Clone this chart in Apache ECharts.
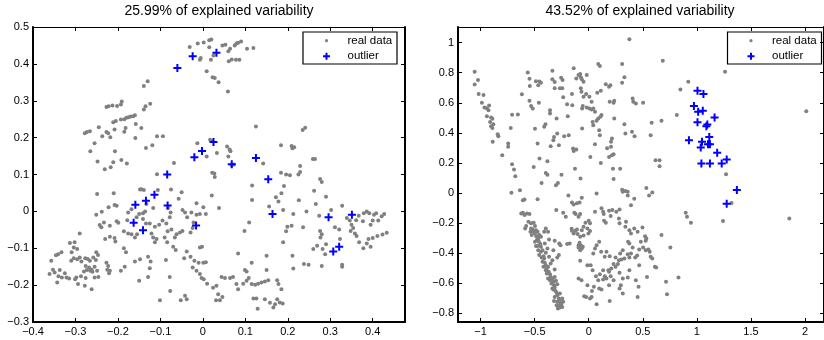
<!DOCTYPE html>
<html><head><meta charset="utf-8">
<script src="https://cdn.jsdelivr.net/npm/echarts@6/dist/echarts.min.js"></script>
<style>html,body{margin:0;padding:0;background:#fff}#c{width:824px;height:340px}</style>
</head><body><div id="c"></div>
<script>
const titles = ['25.99% of explained variability', '43.52% of explained variability'];
const seriesNames = ['real data', 'outlier'];
const leftXTicks = [-0.4, -0.3, -0.2, -0.1, 0, 0.1, 0.2, 0.3, 0.4];
const leftYTicks = [-0.3, -0.2, -0.1, 0, 0.1, 0.2, 0.3, 0.4, 0.5];
const rightXTicks = [-1, -0.5, 0, 0.5, 1, 1.5, 2];
const rightYTicks = [-0.8, -0.6, -0.4, -0.2, 0, 0.2, 0.4, 0.6, 0.8, 1];

const leftReal = [
[-0.031,0.446],[-0.012,0.455],[0.002,0.458],[0.015,0.464],[0.020,0.466],[0.015,0.445],[-0.007,0.411],[-0.005,0.416],[0.019,0.411],[0.025,0.423],[0.046,0.450],[0.053,0.452],[0.060,0.434],[0.064,0.441],[0.075,0.450],[0.079,0.455],[0.083,0.457],[0.090,0.461],[0.061,0.407],[0.068,0.412],[0.078,0.411],[0.086,0.411],[0.104,0.441],[0.119,0.443],[0.009,0.380],[0.023,0.364],[0.028,0.362],[0.037,0.350],[0.059,0.325],
[-0.139,0.340],[-0.130,0.353],[-0.139,0.276],[-0.135,0.285],[-0.124,0.292],[-0.227,0.283],[-0.222,0.285],[-0.213,0.287],[-0.202,0.286],[-0.193,0.290],[-0.191,0.298],[-0.185,0.250],[-0.180,0.254],[-0.175,0.255],[-0.170,0.257],[-0.164,0.258],[-0.160,0.261],[-0.193,0.249],[-0.211,0.242],[-0.205,0.245],[-0.158,0.237],[-0.145,0.226],[-0.245,0.228],[-0.227,0.215],[-0.223,0.212],[-0.182,0.226],[-0.185,0.216],[-0.208,0.222],[-0.278,0.212],[-0.273,0.215],[-0.266,0.217],[-0.237,0.204],[-0.218,0.201],[-0.159,0.199],[-0.108,0.204],[-0.094,0.204],[-0.134,0.172],[-0.119,0.179],[-0.255,0.185],[-0.265,0.163],[-0.207,0.163],[-0.248,0.135],[-0.211,0.133],[-0.192,0.139],[-0.179,0.130],[-0.217,0.120],[-0.231,0.114],[-0.068,0.131],
[-0.013,0.185],[0.017,0.194],[0.022,0.190],[0.009,0.149],[0.033,0.158],[0.057,0.176],[0.063,0.168],[0.065,0.163],[0.060,0.149],[0.125,0.230],[0.142,0.130],[0.184,0.179],[0.209,0.177],[0.211,0.171],[0.215,0.174],[0.235,0.221],[0.241,0.227],[0.229,0.123],[0.259,0.142],[0.264,0.142],[0.073,0.127],[0.068,0.125],
[-0.249,0.047],[-0.210,0.049],[-0.222,0.011],[-0.208,0.017],[-0.203,0.015],[-0.148,0.059],[-0.145,0.060],[-0.139,0.058],[-0.106,0.058],[-0.075,0.059],[-0.108,0.101],[0.022,0.105],[0.027,0.103],[0.028,0.093],[0.184,0.105],[0.196,0.100],[0.205,0.098],[0.225,0.100],[0.229,0.107],[0.226,0.030],[0.276,0.088],[0.280,0.080],
[-0.290,-0.060],[-0.313,-0.086],[-0.302,-0.084],[-0.304,-0.098],[-0.296,-0.102],[-0.333,-0.111],[-0.341,-0.116],[-0.346,-0.119],[-0.357,-0.134],[-0.309,-0.111],[-0.310,-0.134],[-0.304,-0.127],[-0.296,-0.130],[-0.290,-0.125],[-0.286,-0.136],[-0.277,-0.127],[-0.271,-0.129],[-0.266,-0.134],[-0.258,-0.125],[-0.252,-0.132],[-0.251,-0.111],[-0.247,-0.118],[-0.276,-0.148],[-0.268,-0.152],[-0.262,-0.158],[-0.255,-0.150],[-0.361,-0.170],[-0.349,-0.166],[-0.337,-0.159],[-0.325,-0.168],[-0.321,-0.179],[-0.332,-0.179],[-0.340,-0.176],[-0.353,-0.158],[-0.343,-0.193],[-0.315,-0.182],[-0.298,-0.179],[-0.294,-0.197],[-0.278,-0.202],[-0.262,-0.211],[-0.280,-0.163],[-0.273,-0.159],[-0.265,-0.161],[-0.260,-0.164],[-0.249,-0.161],[-0.246,-0.178],[-0.255,-0.179],[-0.276,-0.181],[-0.287,-0.176],[-0.301,-0.184],[-0.227,-0.139],[-0.223,-0.148],[-0.225,-0.158],[-0.219,-0.161],[-0.221,-0.168],[-0.193,-0.161],[-0.184,-0.150],
[-0.238,-0.001],[-0.251,-0.009],[-0.243,-0.037],[-0.239,-0.043],[-0.233,-0.030],[-0.219,-0.039],[-0.203,-0.027],[-0.199,-0.031],[-0.230,-0.075],[-0.219,-0.069],[-0.208,-0.072],[-0.206,-0.082],[-0.186,-0.054],[-0.176,-0.060],[-0.168,-0.062],[-0.186,-0.100],[-0.181,-0.111],[-0.160,-0.071],[-0.155,-0.062],[-0.160,-0.136],[-0.148,-0.130],[-0.129,-0.123],[-0.123,-0.136],[-0.150,-0.188],[-0.129,-0.178],[-0.125,-0.154],[-0.176,-0.003],[-0.168,0.006],[-0.178,-0.024],[-0.156,-0.016],[-0.150,-0.007],[-0.141,-0.005],[-0.136,0.000],[-0.141,-0.021],[-0.134,-0.033],[-0.133,0.020],[-0.117,0.009],[-0.125,-0.033],[-0.113,-0.042],[-0.103,-0.036],[-0.121,-0.060],[-0.117,-0.071],[-0.113,-0.084],[-0.109,-0.075],[-0.095,-0.025],[-0.086,-0.033],[-0.078,-0.016],[-0.076,-0.003],[-0.082,0.009],[-0.083,-0.054],[-0.074,-0.049],[-0.090,-0.071],[-0.084,-0.084],[-0.087,-0.132],[-0.078,-0.178],[-0.077,-0.216],[-0.101,-0.241],[-0.070,-0.096],[-0.064,-0.105],[-0.066,-0.071],[-0.062,-0.062],[-0.054,-0.057],[-0.048,-0.053],[-0.048,0.004],[-0.042,-0.003],[-0.037,-0.016],[-0.027,-0.003],[-0.050,0.052],[-0.057,0.034],[-0.029,-0.057],[-0.024,-0.045],[-0.022,-0.030],[-0.015,0.022],[-0.007,-0.007],[-0.015,-0.009],[0.001,0.011],[0.007,-0.007],[0.021,0.043],[0.038,0.009],[-0.038,-0.109],[-0.029,-0.123],[-0.020,-0.134],[-0.010,-0.139],[0.001,-0.139],[0.007,-0.138],[-0.044,-0.127],[-0.024,-0.152],[-0.015,-0.161],[-0.007,-0.170],[-0.003,-0.181],[0.002,-0.184],[-0.007,-0.098],[-0.002,-0.096],[-0.042,-0.229],[-0.038,-0.238],[-0.052,-0.241],
[0.010,-0.196],[0.024,-0.207],[0.032,-0.202],[0.036,-0.225],[0.046,-0.232],[0.040,-0.241],[0.031,-0.241],[0.044,-0.178],[0.052,-0.181],[0.064,-0.181],[0.071,-0.178],[0.079,-0.197],[0.083,-0.211],[0.095,-0.196],[0.103,-0.188],[0.108,-0.181],[0.115,-0.197],[0.123,-0.199],[0.130,-0.196],[0.138,-0.193],[0.146,-0.190],[0.154,-0.187],[0.175,-0.187],[0.099,-0.159],[0.103,-0.163],[0.115,-0.139],[0.083,-0.114],[0.098,-0.053],[0.109,-0.030],[0.116,0.070],[0.116,0.031],[0.119,-0.236],[0.126,-0.236],[0.129,-0.264],[0.146,-0.238],[0.158,-0.248],[0.166,-0.261],[0.170,-0.252],[0.175,-0.238],[0.181,-0.247],[0.188,-0.250],[0.185,-0.211],[0.178,-0.197],[0.150,-0.159],[0.150,-0.120],[0.156,0.013],[0.172,0.038],[0.178,0.027],[0.185,0.049],[0.191,0.069],[0.189,0.004],[0.196,-0.054],[0.199,-0.042],[0.209,-0.039],[0.213,-0.007],[0.189,-0.084],[0.211,-0.120],[0.213,-0.155],[0.236,-0.043],[0.244,0.000],[0.262,0.056],[0.266,0.020],[0.290,0.040],[0.302,0.004],[0.274,-0.012],[0.276,-0.053],[0.280,-0.062],[0.277,-0.071],[0.260,-0.102],[0.269,-0.093],[0.282,-0.102],[0.288,-0.116],[0.290,-0.089],[0.238,-0.143],[0.249,-0.145],[0.280,-0.148],[0.328,-0.145],[0.328,-0.150],[0.311,-0.043],[0.321,-0.049],[0.328,0.015],[0.339,-0.018],[0.346,-0.025],[0.350,-0.036],[0.354,-0.045],[0.358,-0.060],[0.362,-0.067],[0.348,-0.053],[0.361,-0.024],[0.367,-0.012],[0.377,-0.027],[0.379,-0.005],[0.386,0.000],[0.392,-0.005],[0.395,-0.036],[0.400,-0.025],[0.403,-0.009],[0.408,-0.005],[0.413,-0.025],[0.421,-0.013],[0.427,-0.007],[0.433,-0.058],[0.423,-0.063],[0.411,-0.067],[0.400,-0.072],[0.390,-0.075],[0.378,-0.100],[0.386,-0.087],[0.368,-0.084],[0.395,-0.096],[0.323,-0.075]
];
const leftOutlier = [
[-0.060,0.389],[-0.024,0.421],[0.032,0.430],[-0.020,0.147],[-0.002,0.164],[0.025,0.188],[0.068,0.128],[0.125,0.145],[-0.084,0.100],[0.154,0.087],[-0.159,0.018],[-0.134,0.029],[-0.114,0.045],[-0.083,0.016],[-0.163,-0.031],[-0.141,-0.051],[-0.016,-0.038],[0.164,-0.007],[0.296,-0.016],[0.351,-0.009],[0.307,-0.109],[0.321,-0.096]
];
const rightReal = [
[-1.055,0.807],[-1.055,0.722],[-1.024,0.751],[-1.018,0.658],[-0.973,0.651],[-0.988,0.600],[-0.964,0.569],[-0.942,0.564],[-0.921,0.582],[-0.927,0.551],[-0.942,0.511],[-0.903,0.502],[-0.891,0.493],[-0.912,0.473],[-0.903,0.444],[-0.882,0.458],[-0.891,0.433],[-0.888,0.340],[-0.836,0.378],[-0.842,0.391],[-0.800,0.251],[-0.745,0.329],[-0.745,0.307],[-0.721,0.433],[-0.709,0.520],[-0.655,0.522],[-0.618,0.656],[-0.564,0.802],[-0.548,0.760],[-0.545,0.711],[-0.548,0.613],[-0.533,0.578],[-0.518,0.562],[-0.461,0.600],[-0.497,0.427],[-0.473,0.329],[-0.455,0.229],[-0.509,0.173],[-0.488,0.744],[-0.467,0.716],[-0.442,0.733],[-0.455,0.742],[-0.400,0.458],[-0.382,0.211],[-0.358,0.551],[-0.358,0.529],[-0.336,0.813],[-0.336,0.756],[-0.315,0.738],[-0.315,0.696],[-0.297,0.496],[-0.321,0.373],[-0.327,0.351],[-0.291,0.396],[-0.276,0.318],[-0.255,0.767],[-0.242,0.751],[-0.245,0.696],[-0.267,0.696],[-0.236,0.636],[-0.227,0.378],[-0.200,0.591],[-0.194,0.511],[-0.139,0.829],[-0.155,0.658],[-0.152,0.584],[-0.115,0.762],[-0.094,0.784],[-0.079,0.791],[-0.073,0.769],[-0.064,0.756],[-0.048,0.740],[-0.018,0.784],[-0.073,0.696],[-0.067,0.673],[-0.048,0.640],[-0.024,0.658],[0.006,0.640],[0.027,0.607],[-0.055,0.578],[-0.061,0.562],[-0.018,0.569],[0.006,0.562],[0.027,0.556],[0.042,0.562],[0.058,0.540],[-0.145,0.296],[-0.139,0.280],[-0.115,0.289],[-0.185,0.384],[-0.061,0.429],[0.015,0.240],[0.058,0.324],[0.036,0.473],[0.042,0.451],[0.073,0.480],[0.088,0.496],[0.097,0.418],[0.103,0.384],[0.109,0.507],[0.118,0.518],[0.079,0.667],[0.088,0.858],[0.103,0.844],[0.112,0.680],[0.158,0.724],[0.188,0.707],[0.200,0.716],[0.194,0.607],[0.230,0.600],[0.236,0.613],[0.236,0.496],[0.206,0.340],[0.215,0.362],[0.170,0.298],[0.206,0.307],[0.112,0.200],[0.188,0.240],[0.215,0.251],[0.230,0.258],[0.224,0.162],[0.291,0.162],[0.309,0.858],[0.309,0.733],[0.330,0.769],[0.330,0.458],[0.339,0.396],[0.406,0.629],[0.412,0.607],[0.436,0.596],[0.400,0.407],[0.424,0.378],[0.376,1.022],[0.503,0.600],[0.573,0.384],[0.582,0.467],[0.618,0.218],[0.655,0.218],[0.655,0.178],[0.673,0.480],[0.685,0.880],[0.815,0.518],[0.848,0.689],[0.921,0.740],[1.261,0.807],[2.012,0.544],[-0.709,0.191],[-0.691,0.156],[-0.127,0.162],[-0.352,0.311],[-0.412,0.440],
[-0.679,0.111],[-0.715,0.002],[-0.636,0.018],[-0.609,-0.049],[-0.594,-0.044],[-0.473,-0.042],[-0.436,0.067],[-0.397,0.133],[-0.382,0.122],[-0.303,0.051],[-0.285,0.067],[-0.252,0.122],[-0.188,-0.016],[-0.076,0.096],[-0.155,-0.064],[-0.139,-0.076],[-0.109,-0.069],[-0.085,-0.064],[-0.064,-0.031],[0.073,-0.004],[0.230,0.093],[0.309,0.022],[0.315,0.009],[0.339,0.013],[0.361,0.009],[0.361,-0.016],[0.421,-0.038],[0.391,-0.082],[0.533,0.033],[0.558,-0.016],[0.588,0.004],[1.270,0.124],[1.321,-0.067],
[-0.624,-0.136],[-0.609,-0.131],[-0.594,-0.147],[-0.570,-0.136],[-0.548,-0.140],[-0.579,-0.220],[-0.558,-0.191],[-0.533,-0.202],[-0.509,-0.198],[-0.497,-0.220],[-0.588,-0.236],[-0.533,-0.236],[-0.518,-0.242],[-0.509,-0.258],[-0.488,-0.247],[-0.473,-0.258],[-0.539,-0.258],[-0.527,-0.280],[-0.497,-0.269],[-0.485,-0.287],[-0.467,-0.302],[-0.458,-0.280],[-0.442,-0.291],[-0.479,-0.313],[-0.461,-0.324],[-0.448,-0.340],[-0.442,-0.358],[-0.473,-0.353],[-0.467,-0.380],[-0.442,-0.391],[-0.458,-0.413],[-0.436,-0.429],[-0.418,-0.420],[-0.412,-0.436],[-0.427,-0.458],[-0.406,-0.464],[-0.397,-0.480],[-0.418,-0.491],[-0.388,-0.502],[-0.376,-0.491],[-0.397,-0.513],[-0.388,-0.536],[-0.370,-0.524],[-0.358,-0.540],[-0.352,-0.558],[-0.376,-0.569],[-0.358,-0.580],[-0.336,-0.569],[-0.327,-0.591],[-0.345,-0.602],[-0.321,-0.613],[-0.315,-0.629],[-0.327,-0.642],[-0.306,-0.651],[-0.297,-0.664],[-0.291,-0.680],[-0.315,-0.691],[-0.276,-0.702],[-0.267,-0.718],[-0.261,-0.731],[-0.255,-0.740],[-0.276,-0.747],[-0.245,-0.758],[-0.267,-0.762],[-0.285,-0.769],[-0.236,-0.724],[-0.291,-0.724],[-0.336,-0.636],[-0.315,-0.558],[-0.303,-0.584],[-0.291,-0.607],[-0.427,-0.380],[-0.397,-0.398],[-0.488,-0.353],[-0.497,-0.324],[-0.448,-0.287],[-0.412,-0.258],[-0.406,-0.336],[-0.382,-0.369],[-0.367,-0.424],[-0.352,-0.469],[-0.336,-0.447],[-0.315,-0.509],[-0.321,-0.718],[-0.297,-0.747],[-0.245,-0.702],[-0.267,-0.669],[-0.276,-0.413],[-0.397,-0.236],[-0.376,-0.258],[-0.367,-0.309],
[-0.300,-0.113],[-0.236,-0.131],[-0.212,-0.158],[-0.133,-0.131],[-0.121,-0.140],[-0.094,-0.158],[-0.079,-0.140],[-0.155,-0.251],[-0.139,-0.269],[-0.124,-0.251],[-0.109,-0.242],[-0.158,-0.238],[-0.103,-0.273],[-0.079,-0.291],[-0.048,-0.282],[-0.064,-0.247],[-0.048,-0.224],[-0.012,-0.236],[0.012,-0.253],[-0.003,-0.269],[-0.030,-0.198],[0.000,-0.184],[0.012,-0.202],[-0.085,-0.331],[-0.094,-0.347],[-0.073,-0.347],[-0.055,-0.358],[-0.094,-0.362],[-0.064,-0.369],[-0.079,-0.380],[-0.176,-0.336],[-0.200,-0.340],[-0.273,-0.336],[-0.261,-0.347],[-0.315,-0.318],[-0.327,-0.380],[-0.291,-0.429],[-0.079,-0.451],[-0.094,-0.569],[-0.067,-0.580],[-0.012,-0.613],[-0.042,-0.687],[0.012,-0.702],[0.027,-0.691],[0.073,-0.740],[0.058,-0.124],[0.118,-0.102],[0.133,-0.124],[0.139,-0.140],[0.188,-0.118],[0.218,-0.113],[0.255,-0.124],[0.285,-0.109],[0.142,-0.184],[0.158,-0.198],[0.203,-0.153],[0.279,-0.169],[0.285,-0.202],[0.339,-0.224],[0.345,-0.191],[0.376,-0.247],[0.391,-0.269],[0.421,-0.236],[0.452,-0.258],[0.497,-0.229],[0.521,-0.287],[0.527,-0.318],[0.533,-0.302],[0.503,-0.362],[0.527,-0.380],[0.552,-0.376],[0.573,-0.424],[0.588,-0.436],[0.612,-0.491],[0.624,-0.496],[0.673,-0.280],[0.755,-0.362],[0.564,-0.391],[0.482,-0.324],[0.467,-0.376],[0.448,-0.416],[0.430,-0.429],[0.391,-0.402],[0.376,-0.429],[0.361,-0.407],[0.364,-0.324],[0.376,-0.336],[0.406,-0.362],[0.315,-0.380],[0.291,-0.402],[0.303,-0.442],[0.279,-0.447],[0.248,-0.429],[0.194,-0.420],[0.164,-0.391],[0.148,-0.424],[0.115,-0.391],[0.073,-0.347],[0.058,-0.369],[0.042,-0.402],[0.097,-0.324],[0.230,-0.473],[0.248,-0.491],[0.182,-0.513],[0.203,-0.553],[0.164,-0.569],[0.148,-0.553],[0.133,-0.576],[0.088,-0.580],[0.067,-0.553],[0.036,-0.513],[0.018,-0.480],[-0.012,-0.480],[0.097,-0.636],[0.188,-0.613],[0.230,-0.580],[0.285,-0.531],[0.315,-0.569],[0.361,-0.562],[0.376,-0.513],[0.461,-0.624],[0.452,-0.691],[0.285,-0.636],[0.297,-0.613],[0.315,-0.669],[0.194,-0.718],[0.118,-0.642],[0.048,-0.624],[0.030,-0.651],[0.103,-0.540],[0.133,-0.513],[-0.024,-0.691],[0.188,-0.524],[0.209,-0.502],[0.270,-0.473],[0.330,-0.436],[0.467,-0.480],[0.436,-0.580],[0.539,-0.558],[0.715,-0.591],[0.830,-0.562],[0.724,-0.673],[0.897,-0.131],[0.909,-0.158],[0.945,-0.198],[1.242,-0.187],[1.855,-0.169]
];
const rightOutlier = [
[1.006,0.680],[1.061,0.658],[0.973,0.578],[1.012,0.540],[1.055,0.547],[1.006,0.471],[1.088,0.444],[1.097,0.456],[1.164,0.502],[0.927,0.351],[1.048,0.340],[1.115,0.373],[1.103,0.324],[1.121,0.324],[1.036,0.302],[1.188,0.267],[1.042,0.196],[1.121,0.196],[1.230,0.196],[1.276,0.222],[1.370,0.020],[1.276,-0.071]
];

const FONT = '"Liberation Sans", Arial, Helvetica, sans-serif';
const PLUS = 'path://M3,0H5V3H8V5H5V8H3V5H0V3H3Z';
const GRAY = '#808080';
const BLUE = '#0000ff';
const fmt = v => (v < 0 ? '\u2212' + String(-v) : String(v));

function axis(gridIndex, position, min, max, ticks, showLabel, lw) {
  return {
    type: 'value', gridIndex, position, min, max,
    axisLine: { show: true, onZero: false, lineStyle: { color: '#000', width: lw } },
    axisTick: { show: true, inside: true, length: 4, customValues: ticks, lineStyle: { color: '#000', width: 1 } },
    axisLabel: { show: showLabel, customValues: ticks, formatter: fmt, color: '#000', fontSize: 11, fontFamily: FONT, margin: 4 },
    splitLine: { show: false }
  };
}

const L = { xmin: -0.4, xmax: 0.476, ymin: -0.3, ymax: 0.5 };
const R = { xmin: -1.209, xmax: 2.176, ymin: -0.858, ymax: 1.104 };

function plusPoints(cx, cy, h, t) {
  return [[cx - t, cy - h], [cx + t, cy - h], [cx + t, cy - t], [cx + h, cy - t], [cx + h, cy + t], [cx + t, cy + t],
          [cx + t, cy + h], [cx - t, cy + h], [cx - t, cy + t], [cx - h, cy + t], [cx - h, cy - t], [cx - t, cy - t]];
}
function legendBox(x0) {
  const iconX = x0 + 24, textX = x0 + 45, y1 = 40.7, y2 = 56.2;
  const ts = { fill: '#000', fontSize: 11.5, fontFamily: FONT, verticalAlign: 'middle', align: 'left' };
  return {
    type: 'group', silent: true, z: 100,
    children: [
      { type: 'rect', shape: { x: x0 + 0.5, y: 32, width: 94, height: 32 }, style: { fill: '#fff', stroke: '#000', lineWidth: 1.2 } },
      { type: 'circle', shape: { cx: iconX, cy: y1, r: 1.6 }, style: { fill: GRAY } },
      { type: 'polygon', shape: { points: plusPoints(iconX, y2, 3.5, 1) }, style: { fill: BLUE } },
      { type: 'text', style: Object.assign({ text: seriesNames[0], x: textX, y: y1 }, ts) },
      { type: 'text', style: Object.assign({ text: seriesNames[1], x: textX, y: y2 }, ts) }
    ]
  };
}

const option = {
  animation: false,
  backgroundColor: '#fff',
  title: [
    { text: titles[0], left: 219, top: 4, textAlign: 'center', padding: 0,
      textStyle: { fontSize: 14, fontWeight: 'normal', color: '#000', fontFamily: FONT } },
    { text: titles[1], left: 640, top: 4, textAlign: 'center', padding: 0,
      textStyle: { fontSize: 14, fontWeight: 'normal', color: '#000', fontFamily: FONT } }
  ],
  graphic: [legendBox(302.5), legendBox(727)],
  grid: [
    { left: 33, top: 27, right: 419, bottom: 18, containLabel: false },
    { left: 458, top: 27, right: -6, bottom: 18, containLabel: false }
  ],
  xAxis: [
    axis(0, 'bottom', L.xmin, L.xmax, leftXTicks, true, 2),
    axis(1, 'bottom', R.xmin, R.xmax, rightXTicks, true, 2),
    axis(0, 'top', L.xmin, L.xmax, leftXTicks, false, 1),
    axis(1, 'top', R.xmin, R.xmax, rightXTicks, false, 1)
  ],
  yAxis: [
    axis(0, 'left', L.ymin, L.ymax, leftYTicks, true, 2),
    axis(1, 'left', R.ymin, R.ymax, rightYTicks, true, 2),
    axis(0, 'right', L.ymin, L.ymax, leftYTicks, false, 2),
    axis(1, 'right', R.ymin, R.ymax, rightYTicks, false, 2)
  ],
  series: [
    { type: 'scatter', name: seriesNames[0], xAxisIndex: 0, yAxisIndex: 0, data: leftReal,
      symbol: 'circle', symbolSize: 4, itemStyle: { color: GRAY, opacity: 1 }, z: 2, silent: true },
    { type: 'scatter', name: seriesNames[1], xAxisIndex: 0, yAxisIndex: 0, data: leftOutlier,
      symbol: PLUS, symbolSize: 8, itemStyle: { color: BLUE, opacity: 1 }, z: 3, silent: true },
    { type: 'scatter', name: seriesNames[0], xAxisIndex: 1, yAxisIndex: 1, data: rightReal,
      symbol: 'circle', symbolSize: 4, itemStyle: { color: GRAY, opacity: 1 }, z: 2, silent: true },
    { type: 'scatter', name: seriesNames[1], xAxisIndex: 1, yAxisIndex: 1, data: rightOutlier,
      symbol: PLUS, symbolSize: 8, itemStyle: { color: BLUE, opacity: 1 }, z: 3, silent: true }
  ]
};

const chart = echarts.init(document.getElementById('c'), null, { renderer: 'canvas' });
chart.setOption(option);
</script>
</body></html>
